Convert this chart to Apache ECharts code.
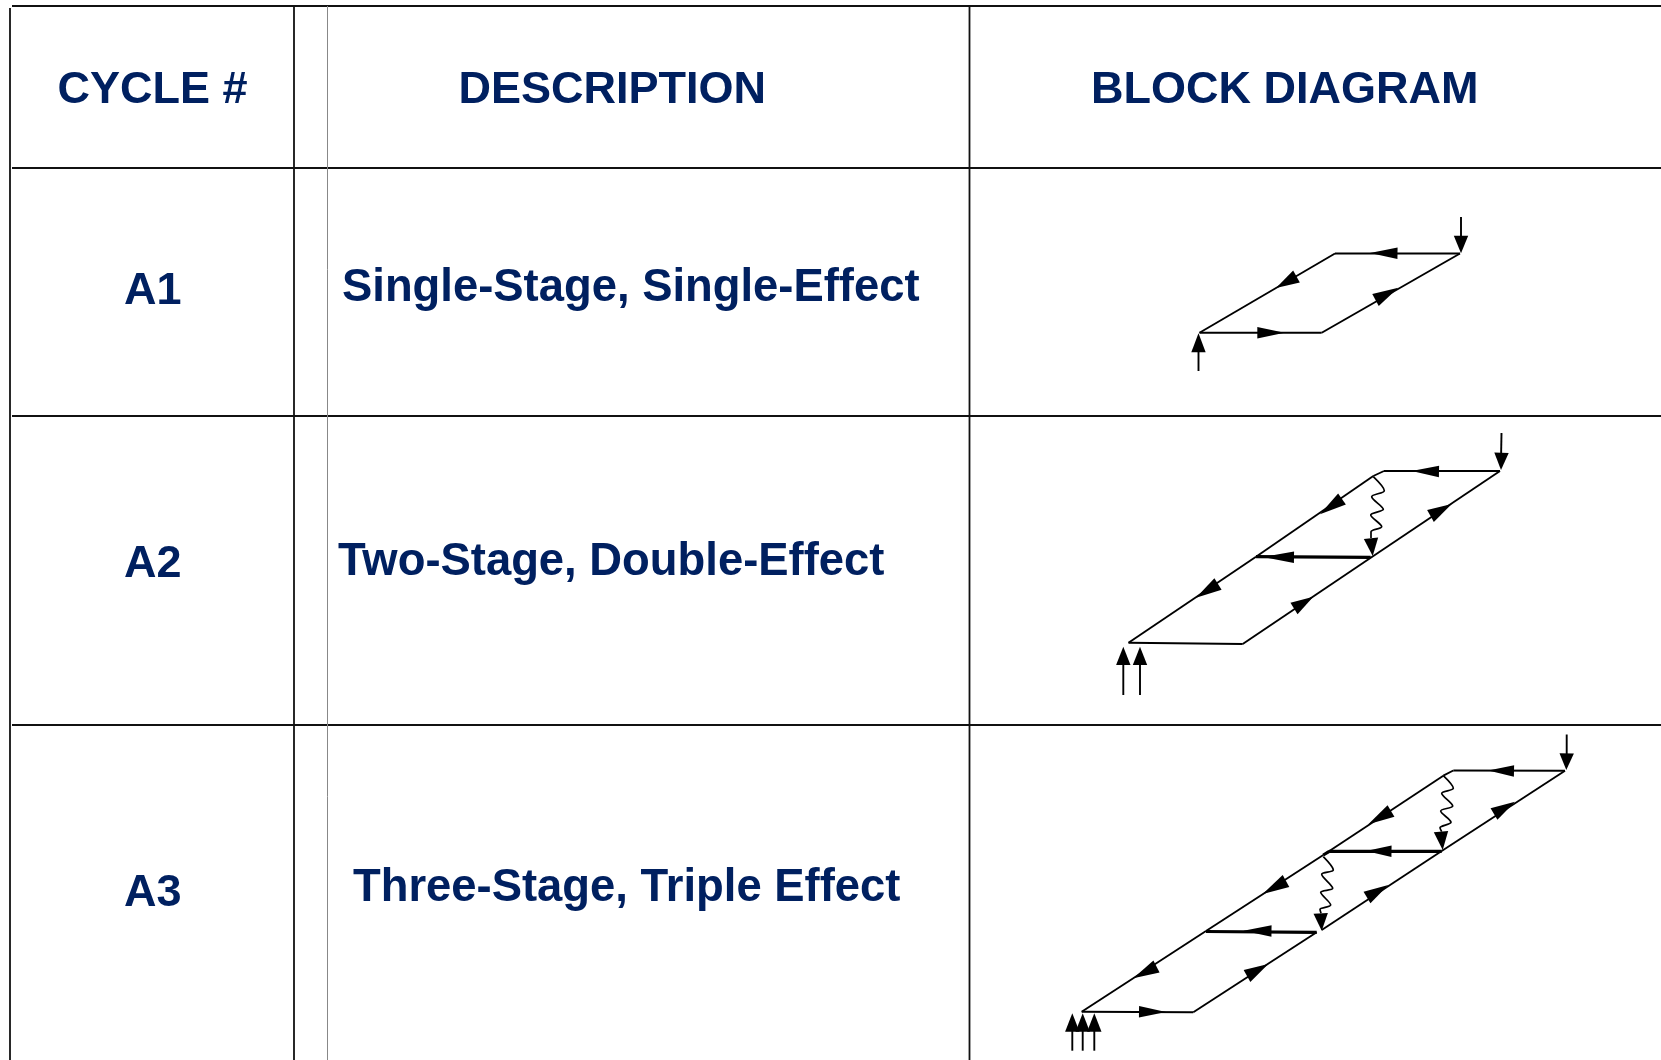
<!DOCTYPE html>
<html>
<head>
<meta charset="utf-8">
<title>Cycle table</title>
<style>
html,body{margin:0;padding:0;background:#fff;}
#main{width:1661px;height:1060px;}
</style>
<script src="https://cdn.jsdelivr.net/npm/echarts@6/dist/echarts.min.js"></script>
</head>
<body>
<div id="main"></div>
<script>
// table text: [text, x, y]
var headers = [['CYCLE #',57.5,90.5],['DESCRIPTION',458.5,90.5],['BLOCK DIAGRAM',1091,90.5]];
var cycles = [['A1',124,291.5],['A2',124,565],['A3',124,894]];
var descriptions = [
    ['Single-Stage, Single-Effect',342,288.5],
    ['Two-Stage, Double-Effect',338,562.5],
    ['Three-Stage, Triple Effect',353,888]
];

// table rules: [x1,y1,x2,y2]
var tableRules = [
    [12,6,1661,6],[12,168,1661,168],[12,416,1661,416],[12,725,1661,725],
    [10,8,10,1060],[294,6,294,1060],[969.5,6,969.5,1060]
];
var grayRules = [[327.5,6,327.5,1060]];

// thin flow lines
var flowA1 = [
    [1461,217,1461,245],[1460,253.5,1335,253.5],[1335,253.5,1199.5,332.7],
    [1199.5,332.7,1321.7,332.7],[1321.7,332.7,1460,253.5],[1198.5,371,1198.5,345]
];
var flowA2 = [
    [1501.5,433,1501,460],[1500,471,1384,471],[1384,471,1373.3,476],[1373.3,476,1256,556.7],
    [1256,556.7,1128.5,642.7],[1128.5,642.7,1242.7,644],[1242.7,644,1370,558.3],[1370,558.3,1500,471],
    [1123.3,695,1123.3,660],[1140,695,1140,660]
];
var flowA3 = [
    [1566.7,734.5,1566.7,760],[1565,770.7,1453.3,770.5],[1453.3,770.5,1443.3,775.7],[1443.3,775.7,1323.3,855],
    [1323.3,855,1206,931],[1206,931,1081.7,1011.7],[1081.7,1011.7,1193.3,1012.3],
    [1193.3,1012.3,1316.7,932.3],[1321.7,930,1441.7,851],[1441.7,851,1565,770.7],
    [1072.3,1050.7,1072.3,1025],[1082.7,1050.7,1082.7,1025],[1094.3,1050.7,1094.3,1025]
];
// heavier lines between the stages
var stageLines = [
    [1256,556.7,1370.7,557.3],[1323.3,855,1329.3,851.3],[1329.3,851.3,1441.7,851.3],[1206,931.5,1316.7,932.3]
];

// arrows along horizontal lines: [tailX,tailY,tipX,tipY]
var arrowsFlat = [
    [1397.5,253.3,1370,253],[1257.3,332.7,1284.5,332.7],[1439,471.5,1411.7,471],
    [1514,771,1488.3,770.5],[1139,1011.7,1166,1012],
    [1391.5,851.3,1366,851],[1271.5,931,1243.5,930.7],[1294,557.3,1263,557]
];
// arrows along the slanted lines
var arrowsSlant = [
    [1296.5,276.5,1276,288],[1375.5,300,1398.3,287.7],
    [1342,499,1320,514.3],[1218,584,1196,597.7],[1294,608.5,1313.3,596.7],[1430.5,516,1451.7,504],
    [1391,811,1368.3,824.3],[1286,881,1262.7,894],[1156.5,966.5,1133.3,978.3],
    [1247,976,1268.3,964],[1367,897.5,1388.3,885],[1494,814,1515,801.7]
];
// inlet and outlet arrows, a bit larger
var arrowsBig = [
    [1461,235.7,1461,253.3],[1198.5,352.3,1198.5,333.3],
    [1501.5,452.7,1501,470],[1123.3,665,1123.3,646.7],[1140,665,1140,646.7],[1371,538.3,1372.7,556],
    [1566.7,753.3,1566.3,770],[1072.3,1031.7,1072.3,1013.3],[1082.7,1031.7,1082.7,1013.3],[1094.3,1031.7,1094.3,1013.3],
    [1441,831.7,1442.7,850],[1320.7,913.3,1321.7,930.7]
];

// wavy heat transfer lines
var waveA2 = [[1373.3,476.7],[1384.3,490.7],[1371.7,496.7],[1383.3,509.3],[1370.7,515],[1381.7,526.7],[1371,531.7],[1371,538]];
var waveA3a = [[1443.3,775.7],[1453.3,788.3],[1441.7,793.3],[1452.7,806],[1440.7,811],[1451,822.3],[1440,827.7],[1441.7,831.7]];
var waveA3b = [[1323.3,856.7],[1333.3,870],[1321.7,874.3],[1332.7,888.3],[1320.7,892.3],[1330.7,905],[1320,909.3],[1321,913.3]];

var navy = '#002060';

function segmentSeries(rows, color, width) {
    return {
        type: 'custom', silent: true, animation: false, data: rows,
        encode: {x: [0, 2], y: [1, 3]},
        renderItem: function (params, api) {
            var a = api.coord([api.value(0), api.value(1)]), b = api.coord([api.value(2), api.value(3)]);
            return {type: 'line', shape: {x1: a[0], y1: a[1], x2: b[0], y2: b[1]}, style: {stroke: color, lineWidth: width}};
        }
    };
}

function arrowSeries(rows, halfWidth) {
    return {
        type: 'custom', silent: true, animation: false, data: rows,
        encode: {x: [0, 2], y: [1, 3]},
        renderItem: function (params, api) {
            var a = api.coord([api.value(0), api.value(1)]), b = api.coord([api.value(2), api.value(3)]);
            var dx = b[0] - a[0], dy = b[1] - a[1], len = Math.sqrt(dx * dx + dy * dy);
            var nx = -dy / len * halfWidth, ny = dx / len * halfWidth;
            return {type: 'polygon', shape: {points: [[a[0] + nx, a[1] + ny], b, [a[0] - nx, a[1] - ny]]}, style: {fill: '#000'}};
        }
    };
}

function waveSeries(points) {
    return {
        type: 'line', data: points, smooth: 0.3, symbol: 'none', silent: true, animation: false,
        lineStyle: {color: '#000', width: 1.7}
    };
}

function textSeries(rows, size) {
    return {
        type: 'custom', silent: true, animation: false, data: rows,
        encode: {x: 1, y: 2},
        renderItem: function (params, api) {
            var p = api.coord([api.value(1), api.value(2)]);
            return {
                type: 'text', x: p[0], y: p[1],
                style: {
                    text: rows[params.dataIndex][0], fill: navy, align: 'left', verticalAlign: 'middle',
                    font: 'bold ' + size + 'px "Liberation Sans", Arial, sans-serif'
                }
            };
        }
    };
}

var myChart = echarts.init(document.getElementById('main'));
myChart.setOption({
    backgroundColor: '#fff',
    animation: false,
    grid: {left: 0, right: 0, top: 0, bottom: 0},
    xAxis: {type: 'value', min: 0, max: 1661, show: false},
    yAxis: {type: 'value', min: 0, max: 1060, inverse: true, show: false},
    series: [
        segmentSeries(tableRules, '#111', 1.8),
        segmentSeries(grayRules, '#888', 1),
        segmentSeries(flowA1, '#000', 1.9),
        segmentSeries(flowA2, '#000', 1.9),
        segmentSeries(flowA3, '#000', 1.9),
        segmentSeries(stageLines, '#000', 3.2),
        waveSeries(waveA2),
        waveSeries(waveA3a),
        waveSeries(waveA3b),
        arrowSeries(arrowsFlat, 5.8),
        arrowSeries(arrowsSlant, 6.8),
        arrowSeries(arrowsBig, 7.2),
        textSeries(headers, 45),
        textSeries(cycles, 45),
        textSeries(descriptions, 45.4)
    ]
});
</script>
</body>
</html>
